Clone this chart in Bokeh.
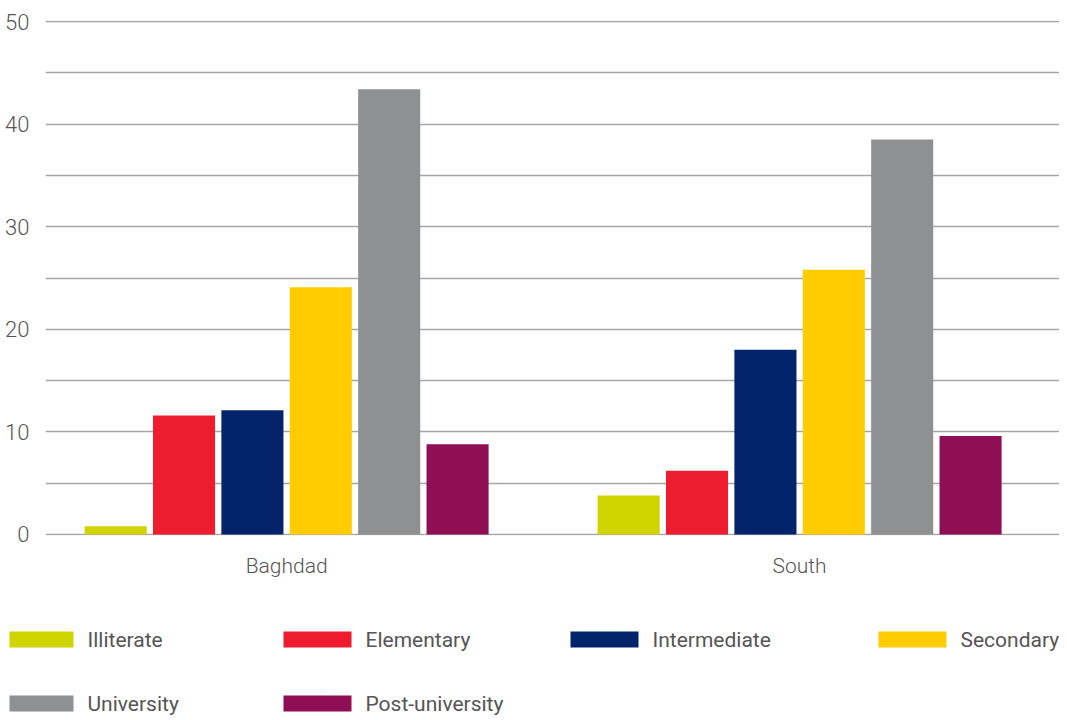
from bokeh.plotting import figure
from bokeh.layouts import column
from bokeh.models import ColumnDataSource, Range1d, FixedTicker
from bokeh.transform import dodge
from bokeh.core.properties import value
from bokeh.embed import file_html
from bokeh.resources import INLINE

# ---- data ----
regions = ["Baghdad", "South"]
levels = ["Illiterate", "Elementary", "Intermediate", "Secondary", "University", "Post-university"]
illiterate = [0.8, 3.8]
elementary = [11.6, 6.2]
intermediate = [12.1, 18.0]
secondary = [24.1, 25.8]
university = [43.4, 38.5]
post_university = [8.8, 9.6]
y_ticks = [0, 10, 20, 30, 40, 50]
y_minor = [5, 15, 25, 35, 45]

series = [illiterate, elementary, intermediate, secondary, university, post_university]
colors = ["#d0d400", "#ed1c2e", "#03246b", "#ffcc00", "#8f9092", "#8f0f54"]

FONT = "Roboto Light"
LFONT = "Roboto"
TXT = "#555555"
GRID = "#a6a6a6"

src = ColumnDataSource(dict(pos=[i + 0.5 for i in range(len(regions))],
                            **{lv: s for lv, s in zip(levels, series)}))

p = figure(width=1059, height=600, output_backend="svg", toolbar_location=None,
           x_range=Range1d(0.030, 2.0066), y_range=Range1d(-0.1, 50.1),
           min_border_left=45, min_border_right=0, min_border_top=20, min_border_bottom=65)
p.frame_align = False
p.outline_line_color = None
p.background_fill_color = "white"
p.border_fill_color = "white"

step = 0.1333
bw = 0.121
for k, (lv, c) in enumerate(zip(levels, colors)):
    p.vbar(x=dodge("pos", (k - 2.5) * step), top=lv, width=bw, bottom=0,
           source=src, fill_color=c, line_color=None)

# grid
p.xgrid.grid_line_color = None
p.yaxis.ticker = FixedTicker(ticks=y_ticks, minor_ticks=y_minor)
p.ygrid.grid_line_color = GRID
p.ygrid.grid_line_width = 1.5
p.ygrid.minor_grid_line_color = GRID
p.ygrid.minor_grid_line_width = 1.5
p.ygrid.level = "underlay"

# axes
p.yaxis.axis_line_color = None
p.yaxis.major_tick_line_color = None
p.yaxis.minor_tick_line_color = None
p.yaxis.major_label_text_font = FONT
p.yaxis.major_label_text_font_size = "22px"
p.yaxis.major_label_text_color = TXT
p.yaxis.major_label_standoff = 10

p.xaxis.ticker = FixedTicker(ticks=[i + 0.5 for i in range(len(regions))])
p.xaxis.major_label_overrides = {i + 0.5: r for i, r in enumerate(regions)}
p.xaxis.axis_line_color = None
p.xaxis.major_tick_line_color = None
p.xaxis.minor_tick_line_color = None
p.xaxis.major_label_text_font = FONT
p.xaxis.major_label_text_font_size = "21px"
p.xaxis.major_label_text_color = TXT
p.xaxis.major_label_standoff = 12

# ---- legend (drawn in its own panel, screen-like coordinates) ----
lg = figure(width=1059, height=116, output_backend="svg", toolbar_location=None,
            x_axis_type=None, y_axis_type=None,
            x_range=Range1d(0, 1059), y_range=Range1d(716, 600),
            min_border=0, min_border_left=0, min_border_right=0,
            min_border_top=0, min_border_bottom=0)
lg.frame_align = False
lg.grid.visible = False
lg.outline_line_color = None

sw_left = [9, 283, 570, 878, 9, 283]
sw_right = [73, 351, 638, 946, 73, 351]
sw_y = [639, 639, 639, 639, 703, 703]
lsrc = ColumnDataSource(dict(
    l=sw_left, r=sw_right, t=[y - 8 for y in sw_y], b=[y + 8 for y in sw_y],
    tx=[r + 14 for r in sw_right], ty=sw_y, label=levels, color=colors))
lg.quad(left="l", right="r", top="t", bottom="b", fill_color="color",
        line_color=None, source=lsrc)
lg.text(x="tx", y="ty", text="label", source=lsrc, text_font=value(LFONT),
        text_font_size="21px", text_color=TXT, text_baseline="middle",
        text_align="left")

layout = column(p, lg, spacing=0)
open("out.html", "w").write(file_html(layout, INLINE))
